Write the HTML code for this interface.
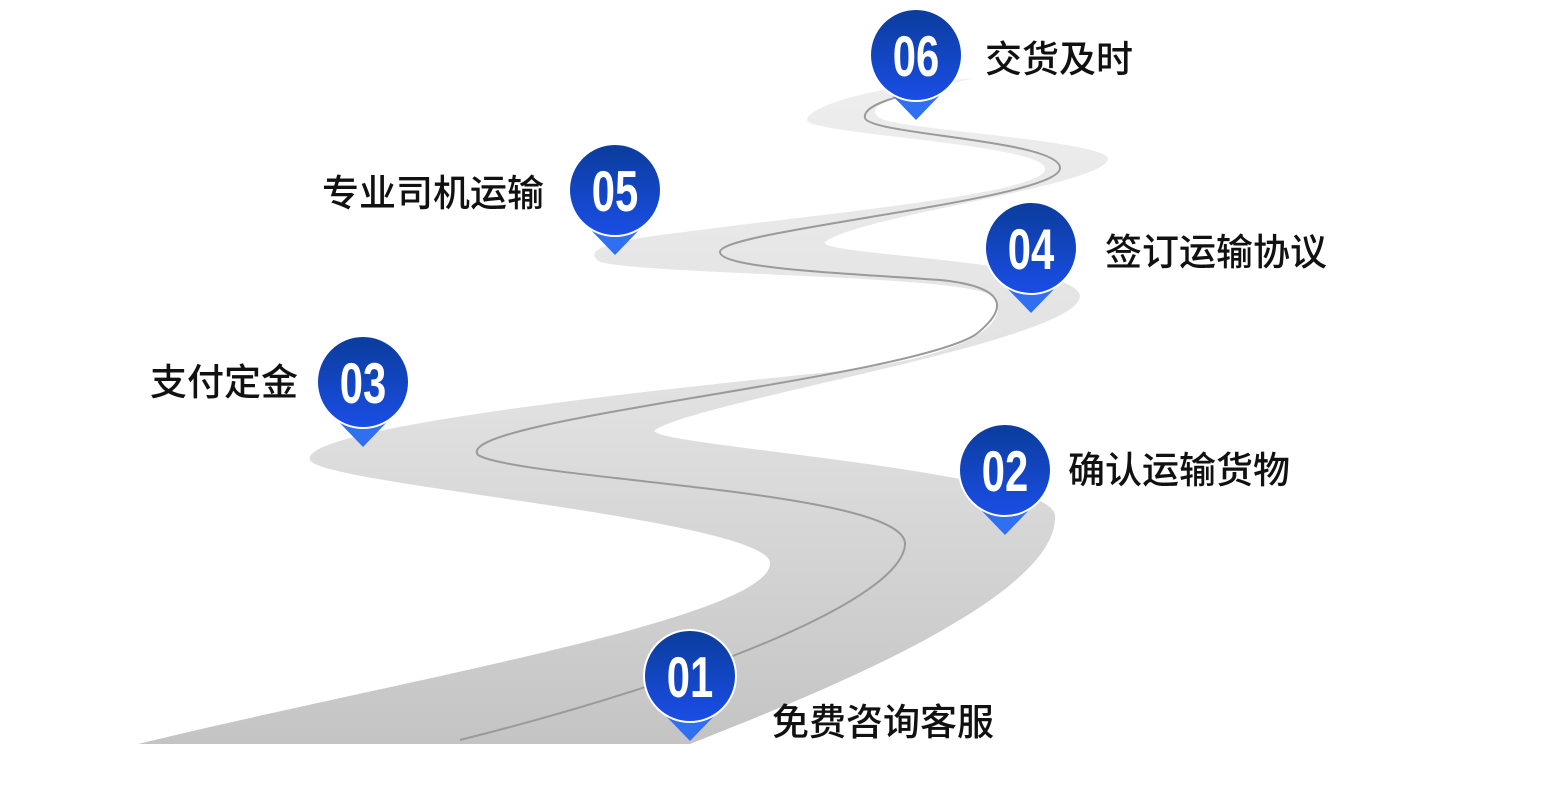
<!DOCTYPE html>
<html><head><meta charset="utf-8"><style>
html,body{margin:0;padding:0;background:#fff;}
body{width:1555px;height:808px;position:relative;overflow:hidden;font-family:"Liberation Sans","Noto Sans CJK SC",sans-serif;}
.lbl{position:absolute;font-size:37px;color:#111;line-height:1;white-space:nowrap;font-weight:500;}
</style></head><body>
<svg width="1555" height="808" style="position:absolute;left:0;top:0">
<defs>
<linearGradient id="rd" x1="0" y1="0" x2="0" y2="1">
<stop offset="0" stop-color="#eeeeee"/><stop offset="0.5" stop-color="#e0e0e0"/><stop offset="1" stop-color="#c4c4c4"/>
</linearGradient>
</defs>
<path fill="url(#rd)" d="M138,744 C400,680 760,620 770,565 C780,520 320,485 310,460 C300,430 600,395 850,370 C1000,350 1010,310 990,295 C960,275 650,275 600,262 C585,252 600,245 640,238 C800,215 1050,195 1045,168 C1040,145 830,135 808,122 C800,112 850,88 975,78 C900,95 860,105 880,118 C900,130 1100,140 1108,158 C1110,185 860,215 825,242 C815,255 1070,260 1080,295 C1085,340 700,400 655,430 C640,445 1050,470 1055,515 C1060,600 800,700 690,744 Z"/>
<path fill="none" stroke="#9a9a9a" stroke-width="2" d="M460,740 C700,680 900,600 905,545 C910,490 520,480 478,455 C450,420 900,380 975,335 C1020,300 990,285 940,280 C880,275 720,270 720,252 C720,230 1060,200 1060,168 C1060,140 870,135 865,118 C862,105 900,95 930,90"/>
</svg>
<div class="lbl" style="left:985px;top:41px">交货及时</div>
<div class="lbl" style="left:322px;top:175px">专业司机运输</div>
<div class="lbl" style="left:1105px;top:234px">签订运输协议</div>
<div class="lbl" style="left:150px;top:364px">支付定金</div>
<div class="lbl" style="left:1068px;top:452px">确认运输货物</div>
<div class="lbl" style="left:772px;top:704px">免费咨询客服</div>
<svg width="1555" height="808" style="position:absolute;left:0;top:0">
<defs>
<linearGradient id="pc2" x1="0" y1="0" x2="0" y2="1">
<stop offset="0" stop-color="#0b3c9c"/><stop offset="1" stop-color="#1a4ee6"/>
</linearGradient>
</defs>
<g font-family="Liberation Sans Narrow, Liberation Sans, sans-serif" font-weight="bold" fill="#fff" text-anchor="middle">
<g transform="translate(916,55)"><path d="M-26,38 L0,65 L26,38 Z" fill="#2f6ff0"/><circle r="46" fill="url(#pc2)" stroke="#fff" stroke-width="2"/><text y="16" font-size="44" transform="scale(0.95,1.3)">06</text></g>
<g transform="translate(615,190)"><path d="M-26,38 L0,65 L26,38 Z" fill="#2f6ff0"/><circle r="46" fill="url(#pc2)" stroke="#fff" stroke-width="2"/><text y="16" font-size="44" transform="scale(0.95,1.3)">05</text></g>
<g transform="translate(1031,248)"><path d="M-26,38 L0,65 L26,38 Z" fill="#2f6ff0"/><circle r="46" fill="url(#pc2)" stroke="#fff" stroke-width="2"/><text y="16" font-size="44" transform="scale(0.95,1.3)">04</text></g>
<g transform="translate(363,382)"><path d="M-26,38 L0,65 L26,38 Z" fill="#2f6ff0"/><circle r="46" fill="url(#pc2)" stroke="#fff" stroke-width="2"/><text y="16" font-size="44" transform="scale(0.95,1.3)">03</text></g>
<g transform="translate(1005,470)"><path d="M-26,38 L0,65 L26,38 Z" fill="#2f6ff0"/><circle r="46" fill="url(#pc2)" stroke="#fff" stroke-width="2"/><text y="16" font-size="44" transform="scale(0.95,1.3)">02</text></g>
<g transform="translate(690,676)"><path d="M-26,38 L0,65 L26,38 Z" fill="#2f6ff0"/><circle r="46" fill="url(#pc2)" stroke="#fff" stroke-width="2"/><text y="16" font-size="44" transform="scale(0.95,1.3)">01</text></g>
</g>
</svg>
</body></html>
